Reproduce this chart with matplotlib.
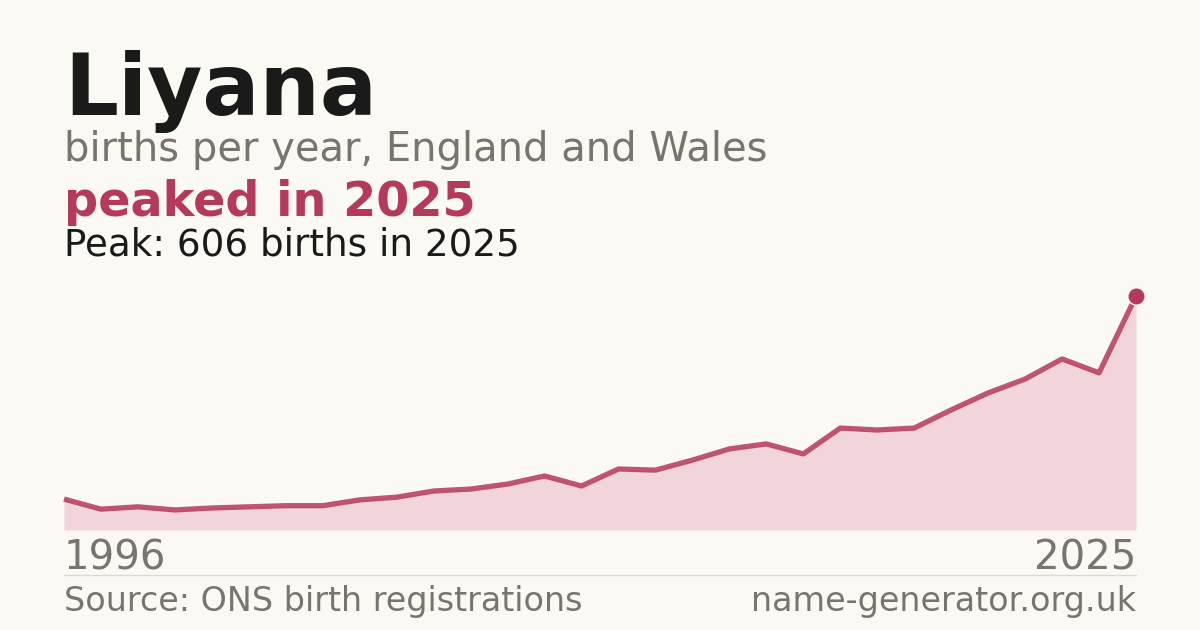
import matplotlib
matplotlib.use("Agg")
import matplotlib.pyplot as plt

years = list(range(1996, 2026))
births = [80, 54, 60, 52, 57, 60, 63, 63, 78, 85,
          101, 106, 119, 140, 114, 158, 155, 181, 210, 223,
          197, 264, 259, 264, 311, 355, 391, 443, 407, 606]

name = "Liyana"
subtitle = "births per year, England and Wales"
headline = "peaked in 2025"
peak_note = "Peak: 606 births in 2025"
source = "Source: ONS birth registrations"
site = "name-generator.org.uk"

bg = "#faf9f4"
accent = "#b5395a"
fill_col = "#f2d5db"
grey = "#7a756c"
dark = "#1a1a1a"

W, H = 1200, 630
fig = plt.figure(figsize=(12, 6.3), dpi=100, facecolor=bg)

def fy(px):
    return 1 - px / H

# plot area: x 64..1136, baseline y=530, peak at y=296
ax = fig.add_axes([64 / W, fy(530), (1136 - 64) / W, (530 - 296) / H])
ax.set_facecolor(bg)
ax.fill_between(years, births, 0, color=fill_col, lw=0)
ax.plot(years, births, color=accent, lw=3.8, alpha=0.85, solid_capstyle="butt", clip_on=False)
ax.plot(years[-1], births[-1], "o", ms=12.5, color=accent, mec=bg, mew=1, clip_on=False, zorder=5)
ax.set_xlim(years[0], years[-1])
ax.set_ylim(0, max(births))
ax.axis("off")

fig.text(64 / W, fy(115), name, fontsize=61, fontweight="bold", color=dark, va="baseline")
fig.text(64 / W, fy(161), subtitle, fontsize=28.8, color=grey, va="baseline")
fig.text(64 / W, fy(216), headline, fontsize=34.4, fontweight="bold", color=accent, va="baseline")
fig.text(64 / W, fy(255), peak_note, fontsize=26.8, color=dark, va="baseline")

fig.text(64 / W, fy(570), str(years[0]), fontsize=29, color=grey, va="baseline")
fig.text(1136 / W, fy(570), str(years[-1]), fontsize=29, color=grey, va="baseline", ha="right")

fig.add_artist(plt.Line2D([64 / W, 1136 / W], [fy(575), fy(575)], color="#dddad2", lw=1))

fig.text(64 / W, fy(611), source, fontsize=24, color=grey, va="baseline")
fig.text(1136 / W, fy(611), site, fontsize=24, color=grey, va="baseline", ha="right")

fig.savefig("out.png", dpi=100, facecolor=bg)
